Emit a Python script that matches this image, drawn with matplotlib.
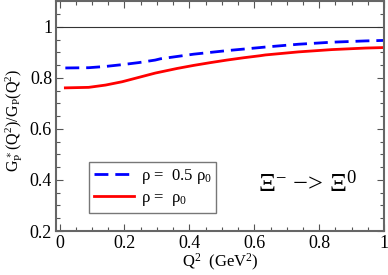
import matplotlib
matplotlib.use("Agg")
import matplotlib.pyplot as plt
from matplotlib.ticker import MultipleLocator

q2_half = [0.018, 0.09, 0.142, 0.193, 0.244, 0.295, 0.311, 0.413, 0.516, 0.618, 0.634,
           0.736, 0.839, 0.942, 1.0]
ratio_half = [0.839, 0.840, 0.845, 0.852, 0.860, 0.870, 0.875, 0.893, 0.907, 0.919, 0.921,
              0.932, 0.940, 0.945, 0.947]
q2_full = [0.018, 0.09, 0.142, 0.193, 0.244, 0.295, 0.362, 0.413, 0.465, 0.516, 0.567,
           0.618, 0.634, 0.736, 0.839, 0.942, 1.0]
ratio_full = [0.761, 0.763, 0.772, 0.785, 0.802, 0.819, 0.837, 0.849, 0.860, 0.870, 0.879,
              0.887, 0.890, 0.902, 0.911, 0.917, 0.919]
xticks = [0, 0.2, 0.4, 0.6, 0.8, 1]
xticklabels = ["0", "0.2", "0.4", "0.6", "0.8", "1"]
yticks = [0.2, 0.4, 0.6, 0.8, 1]
yticklabels = ["0.2", "0.4", "0.6", "0.8", "1"]

plt.rcParams['font.family'] = ['Liberation Serif', 'DejaVu Serif']
plt.rcParams['mathtext.fontset'] = 'custom'
plt.rcParams['mathtext.rm'] = 'Liberation Serif'
plt.rcParams['mathtext.it'] = 'Liberation Serif'

fig = plt.figure(figsize=(3.88, 2.75), dpi=100)
ax = fig.add_axes([0.145, 0.16, 0.845, 0.835])

ax.axhline(1.0, color='#333333', lw=0.8)
ax.plot(q2_half, ratio_half, color='#0000ff', lw=2.0, dashes=(5, 2.5),
        solid_joinstyle='round', label=r'$\rho$ =  0.5 $\rho_0$')
ax.plot(q2_full, ratio_full, color='#ff0000', lw=2.0, solid_joinstyle='round',
        label=r'$\rho$ =  $\rho_0$')

ax.set_xlim(-0.01, 1.0)
ax.set_ylim(0.2, 1.1)
ax.set_xticks(xticks)
ax.set_xticklabels(xticklabels)
ax.set_yticks(yticks)
ax.set_yticklabels(yticklabels)
ax.xaxis.set_minor_locator(MultipleLocator(0.05))
ax.yaxis.set_minor_locator(MultipleLocator(0.05))
ax.tick_params(which='both', direction='in', top=True, right=True, labelsize=13, pad=3)
ax.tick_params(which='major', length=5, width=0.8, color='#555555')
ax.tick_params(which='minor', length=3, width=0.8, color='#555555')
for s in ax.spines.values():
    s.set_color('#666666')
    s.set_linewidth(1.5)

ax.set_xlabel(r'Q$^2$  (GeV$^2$)', fontsize=12, labelpad=0)
ax.set_ylabel(r'$\mathrm{G_P^{\,\ast}(Q^2)/G_P(Q^2)}$', fontsize=11.5)
ax.yaxis.set_label_coords(-0.095, 0.48)

leg = ax.legend(loc='lower left', bbox_to_anchor=(0.1, 0.078), borderaxespad=0,
                fontsize=12, frameon=True, fancybox=False, edgecolor='#555555',
                handlelength=2.4, borderpad=0.3, labelspacing=0.25, handletextpad=0.4)
leg.get_frame().set_linewidth(1.0)

ax.text(0.765, 0.205, '$\\Xi^{-}$ \u2212> $\\Xi^{0}$', transform=ax.transAxes, fontsize=19,
        ha='center', va='center')

fig.savefig('out.png', dpi=100)
